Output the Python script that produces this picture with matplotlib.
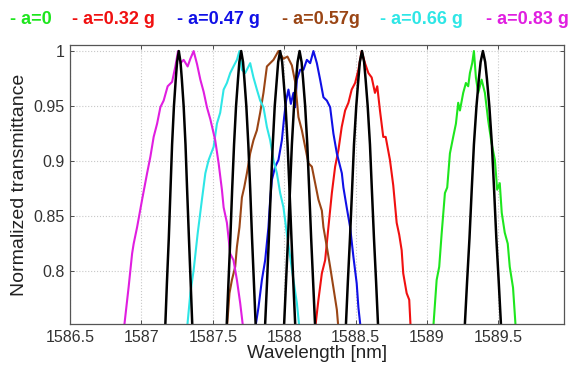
import matplotlib.pyplot as plt

plt.rcParams['font.family'] = ['Liberation Sans', 'DejaVu Sans']

# --- Data ---
# measured spectra, one per acceleration
wl_a000 = [1589.044, 1589.068, 1589.086, 1589.103, 1589.126, 1589.142, 1589.161, 1589.184, 1589.203,
           1589.219, 1589.231, 1589.254, 1589.273, 1589.289, 1589.301, 1589.317, 1589.329, 1589.343,
           1589.359, 1589.383, 1589.406, 1589.429, 1589.453, 1589.476, 1589.492, 1589.510, 1589.524,
           1589.545, 1589.566, 1589.580, 1589.603, 1589.622]
tr_a000 = [0.748, 0.792, 0.804, 0.834, 0.871, 0.876, 0.907, 0.922, 0.934,
           0.953, 0.946, 0.962, 0.971, 0.968, 0.980, 0.989, 1.000, 0.976,
           0.962, 0.974, 0.962, 0.937, 0.916, 0.901, 0.874, 0.880, 0.853,
           0.835, 0.825, 0.804, 0.785, 0.748]

wl_a032 = [1588.217, 1588.240, 1588.264, 1588.287, 1588.310, 1588.334, 1588.357, 1588.380, 1588.403,
           1588.427, 1588.450, 1588.473, 1588.497, 1588.520, 1588.543, 1588.566, 1588.590, 1588.613,
           1588.636, 1588.652, 1588.671, 1588.694, 1588.711, 1588.741, 1588.764, 1588.788, 1588.806,
           1588.823, 1588.834, 1588.858, 1588.876, 1588.886]
tr_a032 = [0.748, 0.774, 0.798, 0.810, 0.840, 0.871, 0.895, 0.910, 0.931,
           0.946, 0.953, 0.965, 0.971, 0.983, 1.000, 0.989, 0.980, 0.976,
           0.962, 0.968, 0.946, 0.922, 0.922, 0.901, 0.878, 0.844, 0.833,
           0.819, 0.798, 0.780, 0.774, 0.748]

wl_a047 = [1587.797, 1587.820, 1587.844, 1587.867, 1587.890, 1587.902, 1587.914, 1587.937, 1587.960,
           1587.984, 1588.000, 1588.014, 1588.030, 1588.047, 1588.065, 1588.077, 1588.089, 1588.112,
           1588.135, 1588.159, 1588.182, 1588.205, 1588.229, 1588.252, 1588.275, 1588.299, 1588.322,
           1588.345, 1588.369, 1588.404, 1588.415, 1588.438, 1588.462, 1588.485, 1588.508, 1588.520,
           1588.536]
tr_a047 = [0.748, 0.767, 0.792, 0.810, 0.840, 0.865, 0.883, 0.895, 0.901,
           0.919, 0.940, 0.955, 0.965, 0.952, 0.962, 0.949, 0.974, 0.983,
           0.983, 0.992, 0.989, 1.000, 0.989, 0.974, 0.958, 0.955, 0.949,
           0.925, 0.907, 0.889, 0.876, 0.858, 0.840, 0.813, 0.789, 0.767,
           0.748]

wl_a057 = [1587.599, 1587.617, 1587.634, 1587.657, 1587.669, 1587.687, 1587.704, 1587.720, 1587.739,
           1587.762, 1587.785, 1587.809, 1587.832, 1587.855, 1587.879, 1587.902, 1587.925, 1587.960,
           1587.995, 1588.023, 1588.054, 1588.077, 1588.100, 1588.124, 1588.147, 1588.170, 1588.194,
           1588.217, 1588.240, 1588.264, 1588.275, 1588.299, 1588.322, 1588.345, 1588.369, 1588.380]
tr_a057 = [0.748, 0.780, 0.792, 0.804, 0.822, 0.840, 0.867, 0.876, 0.889,
           0.907, 0.919, 0.928, 0.944, 0.962, 0.986, 0.989, 0.992, 1.000,
           0.993, 0.995, 0.987, 0.972, 0.940, 0.928, 0.913, 0.898, 0.895,
           0.880, 0.865, 0.855, 0.840, 0.822, 0.804, 0.785, 0.765, 0.748]

wl_a066 = [1587.320, 1587.343, 1587.366, 1587.394, 1587.424, 1587.448, 1587.471, 1587.506, 1587.529,
           1587.552, 1587.576, 1587.599, 1587.622, 1587.645, 1587.669, 1587.687, 1587.704, 1587.727,
           1587.762, 1587.785, 1587.809, 1587.832, 1587.855, 1587.879, 1587.902, 1587.925, 1587.949,
           1587.972, 1587.995, 1588.019, 1588.042, 1588.065, 1588.089, 1588.107]
tr_a066 = [0.748, 0.780, 0.801, 0.834, 0.865, 0.889, 0.901, 0.913, 0.934,
           0.944, 0.965, 0.971, 0.980, 0.986, 0.992, 1.000, 0.983, 0.980,
           0.989, 0.976, 0.965, 0.955, 0.949, 0.931, 0.919, 0.901, 0.889,
           0.871, 0.858, 0.834, 0.813, 0.792, 0.771, 0.748]

wl_a083 = [1586.878, 1586.911, 1586.935, 1586.946, 1586.970, 1587.005, 1587.040, 1587.063, 1587.086,
           1587.110, 1587.133, 1587.156, 1587.184, 1587.215, 1587.238, 1587.257, 1587.273, 1587.296,
           1587.324, 1587.343, 1587.366, 1587.390, 1587.413, 1587.436, 1587.459, 1587.483, 1587.517,
           1587.541, 1587.564, 1587.576, 1587.599, 1587.622, 1587.645, 1587.669, 1587.692, 1587.713]
tr_a083 = [0.748, 0.786, 0.816, 0.825, 0.840, 0.865, 0.889, 0.904, 0.922,
           0.934, 0.949, 0.955, 0.968, 0.972, 0.986, 1.000, 0.989, 0.992,
           0.986, 0.993, 1.000, 0.988, 0.974, 0.963, 0.949, 0.938, 0.919,
           0.898, 0.874, 0.858, 0.844, 0.816, 0.810, 0.792, 0.771, 0.748]

# fitted (black) peaks: transmittance levels shared, wavelengths per peak
fit_tr = [0.74, 0.7525, 0.79, 0.83, 0.875, 0.915, 0.95, 0.975, 0.99, 1.0,
          0.99, 0.975, 0.95, 0.915, 0.875, 0.83, 0.79, 0.7525, 0.74]
fit_wl = [
    [1587.163, 1587.168, 1587.179, 1587.192, 1587.204, 1587.215, 1587.228, 1587.241, 1587.250, 1587.262,
     1587.274, 1587.283, 1587.296, 1587.309, 1587.320, 1587.333, 1587.345, 1587.356, 1587.361],
    [1587.593, 1587.598, 1587.610, 1587.623, 1587.636, 1587.649, 1587.663, 1587.677, 1587.686, 1587.699,
     1587.712, 1587.721, 1587.735, 1587.749, 1587.762, 1587.775, 1587.788, 1587.800, 1587.805],
    [1587.862, 1587.867, 1587.880, 1587.893, 1587.907, 1587.920, 1587.934, 1587.949, 1587.958, 1587.972,
     1587.986, 1587.995, 1588.010, 1588.024, 1588.037, 1588.051, 1588.064, 1588.077, 1588.082],
    [1587.995, 1588.000, 1588.013, 1588.027, 1588.041, 1588.054, 1588.069, 1588.084, 1588.094, 1588.108,
     1588.122, 1588.132, 1588.147, 1588.162, 1588.175, 1588.189, 1588.203, 1588.216, 1588.221],
    [1588.427, 1588.433, 1588.446, 1588.461, 1588.476, 1588.489, 1588.505, 1588.520, 1588.530, 1588.545,
     1588.560, 1588.570, 1588.585, 1588.601, 1588.614, 1588.629, 1588.644, 1588.657, 1588.663],
    [1589.260, 1589.266, 1589.281, 1589.298, 1589.314, 1589.329, 1589.347, 1589.364, 1589.376, 1589.392,
     1589.408, 1589.420, 1589.437, 1589.455, 1589.470, 1589.486, 1589.503, 1589.518, 1589.524],
]

labels = ['- a=0', '- a=0.32 g', '- a=0.47 g', '- a=0.57g', '- a=0.66 g', '- a=0.83 g']
colors = ['#1ee61e', '#f01010', '#1010e6', '#9a4515', '#2ee6e6', '#e01ee0']
series = [(wl_a000, tr_a000), (wl_a032, tr_a032), (wl_a047, tr_a047),
          (wl_a057, tr_a057), (wl_a066, tr_a066), (wl_a083, tr_a083)]

xticks = [1586.5, 1587, 1587.5, 1588, 1588.5, 1589, 1589.5]
xticklabels = ['1586.5', '1587', '1587.5', '1588', '1588.5', '1589', '1589.5']
yticks = [0.8, 0.85, 0.9, 0.95, 1.0]
yticklabels = ['0.8', '0.85', '0.9', '0.95', '1']

# --- Figure ---
fig = plt.figure(figsize=(5.69, 3.65), dpi=100)
ax = fig.add_axes([70 / 569, 1 - 324 / 365, 494 / 569, 279 / 365])

for (wl, tr), c in zip(series, colors):
    ax.plot(wl, tr, color=c, lw=1.5)
for wl in fit_wl:
    ax.plot(wl, fit_tr, color='black', lw=1.8)

ax.set_xlim(1586.5, 1589.96)
ax.set_ylim(0.752, 1.0055)
ax.set_xticks(xticks)
ax.set_xticklabels(xticklabels)
ax.set_yticks(yticks)
ax.set_yticklabels(yticklabels)
ax.grid(True, color='#c8c8c8', linestyle=':', linewidth=0.8)
ax.tick_params(direction='in', top=True, right=True, labelsize=11.5, colors='#333333',
               length=3, width=0.6, pad=4)
for s in ax.spines.values():
    s.set_color('#555555')
    s.set_linewidth(0.9)

ax.set_xlabel('Wavelength [nm]', fontsize=13.5, color='#222222', labelpad=0)
ax.set_ylabel('Normalized transmittance', fontsize=14, color='#222222', labelpad=4)

# colour-coded legend line at the top
leg_x = [10, 71.7, 176.7, 281.5, 380.5, 485.5]
for x, lab, c in zip(leg_x, labels, colors):
    fig.text(x / 569, 1 - 20 / 365, lab, color=c, fontsize=13, fontweight='bold',
             ha='left', va='center')

plt.savefig('out.png', dpi=100)
plt.close()
